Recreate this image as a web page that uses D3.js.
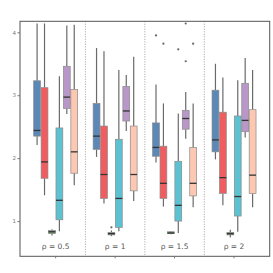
<!DOCTYPE html>
<html><head><meta charset="utf-8">
<script src="https://cdn.jsdelivr.net/npm/d3@7"></script>
<style>body{margin:0;background:#fff}svg{display:block}</style>
</head><body>
<svg id="c" width="273" height="273"></svg>
<script>
const groups = ["ρ = 0.5", "ρ = 1", "ρ = 1.5", "ρ = 2"];
const seriesNames = ["s1", "s2", "s3", "s4", "s5", "s6"];
const seriesColors = ["#5b88b6", "#f05d60", "#6e9e6a", "#5cc2d2", "#b997c8", "#fdc8b2"];
// [whiskerLow, q1, median, q3, whiskerHigh] per group
const s1Stats = [[2.21, 2.35, 2.44, 3.23, 4.14], [2.02, 2.14, 2.35, 2.87, 3.75], [1.93, 2.03, 2.17, 2.56, 3.17], [1.98, 2.10, 2.29, 3.08, 3.50]];
const s2Stats = [[1.41, 1.68, 1.94, 3.12, 4.14], [1.28, 1.36, 1.74, 2.51, 3.70], [1.23, 1.36, 1.60, 2.19, 2.87], [1.25, 1.44, 1.69, 2.73, 3.28]];
const s3Stats = [[0.77, 0.80, 0.83, 0.85, 0.87], [0.76, 0.78, 0.80, 0.82, 0.85], [0.79, 0.80, 0.81, 0.83, 0.84], [0.74, 0.78, 0.80, 0.82, 0.86]];
const s4Stats = [[0.84, 1.02, 1.33, 2.48, 3.30], [0.84, 0.90, 1.36, 2.30, 3.40], [0.81, 1.00, 1.25, 1.95, 2.71], [0.83, 1.08, 1.39, 2.67, 3.24]];
const s5Stats = [[2.70, 2.79, 2.97, 3.46, 4.11], [2.43, 2.59, 2.75, 3.14, 3.32], [2.31, 2.46, 2.63, 2.76, 3.05], [2.33, 2.42, 2.60, 3.19, 3.59]];
const s6Stats = [[1.57, 1.76, 2.10, 3.09, 4.12], [1.32, 1.48, 1.74, 2.51, 3.61], [1.22, 1.40, 1.60, 2.17, 2.87], [1.22, 1.44, 1.73, 2.77, 3.40]];
const allStats = [s1Stats, s2Stats, s3Stats, s4Stats, s5Stats, s6Stats];
const outlierGroup = [1, 2, 2, 2, 2, 2, 2];
const outlierSeries = [2, 0, 1, 3, 4, 4, 5];
const outlierValue = [0.90, 3.95, 3.82, 3.73, 4.14, 3.54, 3.82];
const yTicks = [1, 2, 3, 4];

const svg = d3.select("#c");
const L = 20, R = 269.7, T = 21.3, B = 256.3;
const x = d3.scaleBand().domain(groups).range([L, R]).paddingInner(0).paddingOuter(0.1);
const xs = d3.scaleBand().domain(seriesNames).range([0, x.bandwidth() * 0.75]);
const y = d3.scaleLinear().domain([0.44, 4.175]).range([B, T]);

// separators
groups.slice(1).forEach(g => {
  svg.append("line").attr("x1", x(g)).attr("x2", x(g)).attr("y1", T).attr("y2", B)
    .attr("stroke", "#888").attr("stroke-width", 0.8).attr("stroke-dasharray", "1,1.5");
});

const off = g => x(g) + x.bandwidth() / 2 - x.bandwidth() * 0.375;

allStats.forEach((stats, si) => {
  const sName = seriesNames[si];
  stats.forEach((st, gi) => {
    const g = groups[gi];
    const x0 = off(g) + xs(sName);
    const w = xs.bandwidth();
    const cx = x0 + w / 2;
    const gEl = svg.append("g");
    gEl.append("line").attr("x1", cx).attr("x2", cx).attr("y1", y(st[0])).attr("y2", y(st[1]))
      .attr("stroke", "#6a6a6a").attr("stroke-width", 1.2);
    gEl.append("line").attr("x1", cx).attr("x2", cx).attr("y1", y(st[3])).attr("y2", y(st[4]))
      .attr("stroke", "#6a6a6a").attr("stroke-width", 1.2);
    gEl.append("rect").attr("x", x0 + 0.3).attr("width", w - 0.6)
      .attr("y", y(st[3])).attr("height", y(st[1]) - y(st[3]))
      .attr("fill", seriesColors[si]).attr("stroke", "#8a8a8a").attr("stroke-width", 0.7);
    gEl.append("line").attr("x1", x0 + 0.3).attr("x2", x0 + w - 0.3).attr("y1", y(st[2])).attr("y2", y(st[2]))
      .attr("stroke", "#333").attr("stroke-width", 1.3);
  });
});

outlierValue.forEach((v, i) => {
  const g = groups[outlierGroup[i]];
  const cx = off(g) + xs(seriesNames[outlierSeries[i]]) + xs.bandwidth() / 2;
  svg.append("circle").attr("cx", cx).attr("cy", y(v)).attr("r", 1.1).attr("fill", "#666");
});

// frame
svg.append("rect").attr("x", L).attr("y", T).attr("width", R - L).attr("height", B - T)
  .attr("fill", "none").attr("stroke", "#555").attr("stroke-width", 1);

const yAxis = svg.append("g").attr("transform", `translate(${L},0)`)
  .call(d3.axisLeft(y).tickValues(yTicks).tickSize(2.5).tickPadding(1.5).tickFormat(d3.format("d")));
yAxis.select(".domain").remove();
yAxis.selectAll("line").attr("stroke", "#777");
yAxis.selectAll("text").attr("fill", "#777").style("font-size", "5.5px").style("font-family", "DejaVu Sans");

const xAxis = svg.append("g").attr("transform", `translate(0,${B})`)
  .call(d3.axisBottom(x).tickSize(2).tickFormat(() => ""));
xAxis.select(".domain").remove();
xAxis.selectAll("line").attr("stroke", "#777");

groups.forEach(g => {
  svg.append("text").attr("x", x(g) + x.bandwidth() / 2).attr("y", 248.5)
    .attr("text-anchor", "middle").attr("fill", "#555")
    .style("font-size", "7.5px").style("font-family", "DejaVu Sans").text(g);
});
</script>
</body></html>
